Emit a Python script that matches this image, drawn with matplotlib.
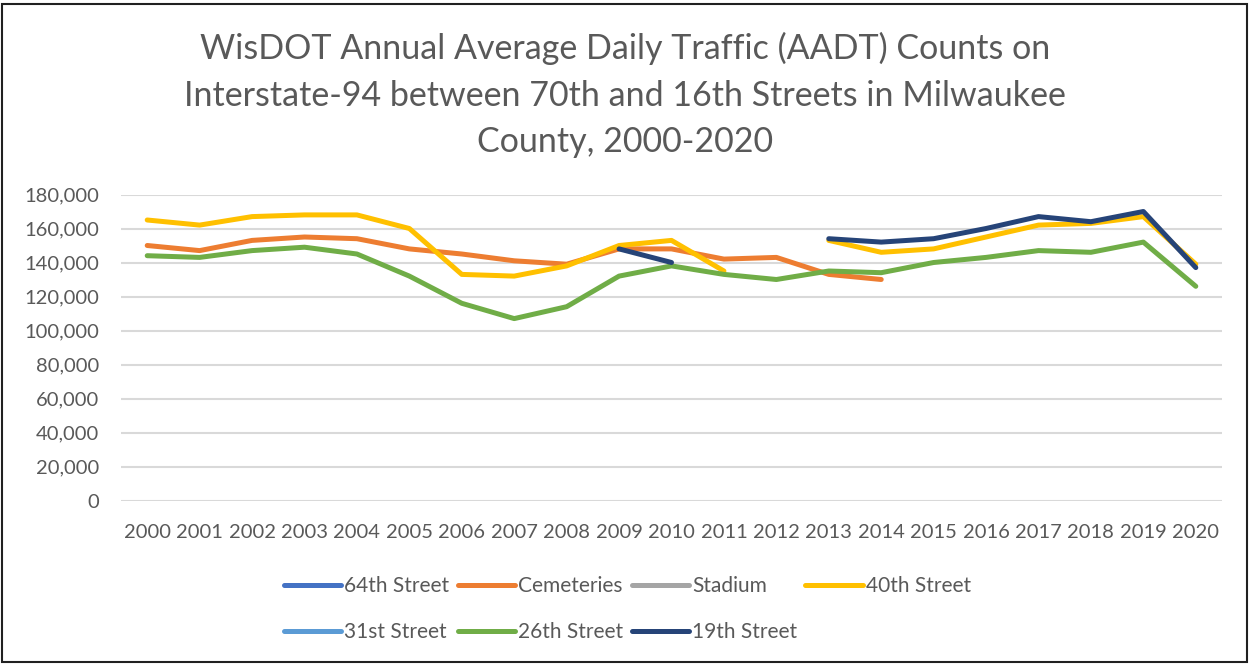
import numpy as np
import matplotlib
matplotlib.use("Agg")
import matplotlib.pyplot as plt
from matplotlib.patches import Rectangle
from matplotlib.ticker import FuncFormatter

years = [str(y) for y in range(2000, 2021)]
nan = np.nan

s64th = [nan] * 21
cemeteries = [150000, 147000, 153000, 155000, 154000, 148000, 145000, 141000, 139000, 148000,
              148000, 142000, 143000, 133000, 130000, nan, nan, nan, nan, nan, nan]
stadium = [nan] * 21
s40th = [165000, 162000, 167000, 168000, 168000, 160000, 133000, 132000, 138000, 150000,
         153000, 135000, nan, 153000, 146000, 148000, 155000, 162000, 163000, 167000, 139000]
s31st = [nan] * 21
s26th = [144000, 143000, 147000, 149000, 145000, 132000, 116000, 107000, 114000, 132000,
         138000, 133000, 130000, 135000, 134000, 140000, 143000, 147000, 146000, 152000, 126000]
s19th = [nan, nan, nan, nan, nan, nan, nan, nan, nan, 148000,
         140000, nan, nan, 154000, 152000, 154000, 160000, 167000, 164000, 170000, 137000]

series_names = ["64th Street", "Cemeteries", "Stadium", "40th Street",
                "31st Street", "26th Street", "19th Street"]
series_values = [s64th, cemeteries, stadium, s40th, s31st, s26th, s19th]
colors = ["#4472C4", "#ED7D31", "#A5A5A5", "#FFC000", "#5B9BD5", "#70AD47", "#264478"]

title = ("WisDOT Annual Average Daily Traffic (AADT) Counts on\n"
         "Interstate-94 between 70th and 16th Streets in Milwaukee\n"
         "County, 2000-2020")

plt.rcParams['font.family'] = ['Lato', 'DejaVu Sans']
txt = "#595959"

fig = plt.figure(figsize=(12.5, 6.65), dpi=100)
fig.patch.set_facecolor("white")
fig.patches.append(Rectangle((2 / 1250, 3 / 665), 1245 / 1250, 658 / 665,
                             transform=fig.transFigure, fill=False,
                             edgecolor="#202020", linewidth=1.5))

left = 121 / 1250
right = 1222 / 1250
bottom = 1 - 500.5 / 665
top = 1 - 194.5 / 665
ax = fig.add_axes([left, bottom, right - left, top - bottom])

x = np.arange(len(years))
handles = []
for name, vals, c in zip(series_names, series_values, colors):
    h, = ax.plot(x, vals, color=c, linewidth=3.6, solid_capstyle='round',
                 solid_joinstyle='round', label=name)
    handles.append(h)

ax.set_xlim(-0.5, len(years) - 0.5)
ax.set_ylim(0, 180000)
ax.set_yticks(np.arange(0, 180001, 20000))
ax.yaxis.set_major_formatter(FuncFormatter(lambda v, p: f"{int(v):,}"))
ax.set_xticks(x)
ax.set_xticklabels(years)
ax.grid(axis='y', color="#D9D9D9", linewidth=1.5)
ax.set_axisbelow(True)
for s in ax.spines.values():
    s.set_visible(False)
ax.tick_params(axis='both', length=0, labelsize=14.5, labelcolor=txt)
ax.tick_params(axis='y', pad=16)
ax.tick_params(axis='x', pad=17)

fig.text(0.5, 1 - 95 / 665, title, ha='center', va='center', fontsize=24.5,
         color=txt, linespacing=1.55)

order = [0, 4, 1, 5, 2, 6, 3]
leg = fig.legend([handles[i] for i in order], [series_names[i] for i in order],
                 ncol=4, loc='center left', bbox_to_anchor=(265 / 1250, 1 - 609 / 665),
                 frameon=False, fontsize=15, handlelength=2.75, handletextpad=0.15,
                 columnspacing=0.4, labelspacing=1.25, labelcolor=txt)
for lh in leg.get_lines():
    lh.set_linewidth(3.6)

fig.savefig("out.png", dpi=100)
